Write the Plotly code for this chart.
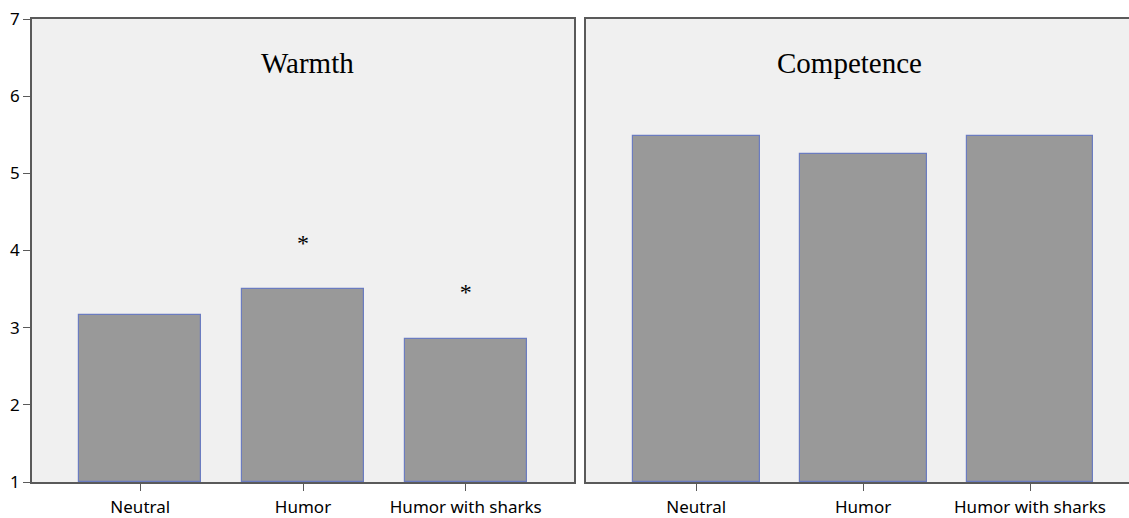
import plotly.graph_objects as go

categories = ["Neutral", "Humor", "Humor with sharks"]
warmth = [3.17, 3.50, 2.85]
competence = [5.49, 5.25, 5.49]
star_cats = ["Humor", "Humor with sharks"]
star_y = [4.07, 3.44]
panel_titles = ["Warmth", "Competence"]
y_ticks = [1, 2, 3, 4, 5, 6, 7]

bar_fill = "#999999"
bar_line = "#6b7cc0"

fig = go.Figure()
fig.add_trace(go.Bar(x=categories, y=[v - 1 for v in warmth], base=1, width=0.75,
                     marker=dict(color=bar_fill, line=dict(color=bar_line, width=1.2)),
                     xaxis="x", yaxis="y", showlegend=False))
fig.add_trace(go.Bar(x=categories, y=[v - 1 for v in competence], base=1, width=0.76,
                     marker=dict(color=bar_fill, line=dict(color=bar_line, width=1.2)),
                     xaxis="x2", yaxis="y2", showlegend=False))
fig.add_trace(go.Scatter(x=star_cats, y=star_y, mode="text", text=["*"] * len(star_cats),
                         textfont=dict(family="Liberation Serif", size=24, color="black"),
                         xaxis="x", yaxis="y", showlegend=False))

L, T, B = 32, 19, 34
W, H = 1129, 518
pw = W - L
d1 = (574 - L) / pw
d2 = (586 - L) / pw

axis_common = dict(showline=True, linecolor="#5a5a5a", linewidth=1.5, mirror=True,
                   showgrid=False, zeroline=False, ticks="outside", ticklen=7,
                   tickcolor="#5a5a5a",
                   tickfont=dict(family="Noto Sans", size=17, color="black"))

y2_common = {k: v for k, v in axis_common.items() if k not in ("ticks", "mirror")}

fig.update_layout(
    width=W, height=H,
    margin=dict(l=L, r=0, t=T, b=B),
    paper_bgcolor="white", plot_bgcolor="#f0f0f0",
    xaxis=dict(domain=[0, d1], range=[-0.665, 2.665], categoryorder="array",
               categoryarray=categories, **axis_common),
    xaxis2=dict(domain=[d2, 1], range=[-0.66, 2.593], categoryorder="array",
                categoryarray=categories, anchor="y2", **axis_common),
    yaxis=dict(range=[1, 7], tickvals=y_ticks, anchor="x", **axis_common),
    yaxis2=dict(range=[1, 7], tickvals=y_ticks, anchor="x2", showticklabels=False,
                ticks="", mirror=False, **y2_common),
    bargap=0,
)
fig.update_xaxes(ticklabelstandoff=2)

fig.add_annotation(text=panel_titles[0], x=1.03, y=6.43, xref="x", yref="y", showarrow=False,
                   font=dict(family="Liberation Serif", size=29, color="black"))
fig.add_annotation(text=panel_titles[1], x=0.92, y=6.43, xref="x2", yref="y2", showarrow=False,
                   font=dict(family="Liberation Serif", size=29, color="black"))

fig.write_html("out.html", config={"displayModeBar": False},
               post_script="document.body.style.margin='0';document.body.style.overflow='hidden';")
